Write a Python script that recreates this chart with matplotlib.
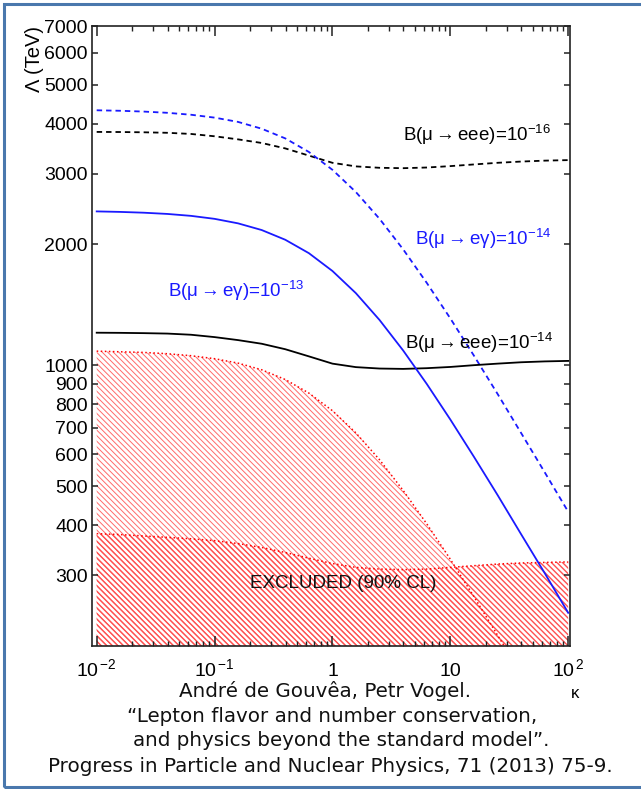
import matplotlib
matplotlib.use("Agg")
import matplotlib.pyplot as plt
import matplotlib.patches as mpatches
from matplotlib.ticker import FixedLocator, NullFormatter, NullLocator

plt.rcParams['font.family'] = ['Liberation Sans', 'DejaVu Sans']
plt.rcParams['mathtext.fontset'] = 'custom'
plt.rcParams['mathtext.rm'] = 'Liberation Sans'
plt.rcParams['mathtext.it'] = 'Liberation Sans:italic'
plt.rcParams['mathtext.bf'] = 'Liberation Sans:bold'

# kappa grid shared by the curves
kappa = [0.01, 0.0158, 0.0251, 0.0398, 0.0631, 0.1, 0.158, 0.251, 0.398, 0.631,
         1.0, 1.58, 2.51, 3.98, 6.31, 10.0, 15.8, 25.1, 39.8, 63.1, 100.0]

# Lambda (TeV) reach for each branching ratio
meg_1e14 = [4318, 4306, 4286, 4256, 4209, 4140, 4040, 3885, 3675, 3400,
            3069, 2702, 2317, 1945, 1605, 1309, 1059, 850, 679, 542, 432]
meg_1e13 = [2418, 2411, 2400, 2383, 2357, 2317, 2258, 2173, 2055, 1903,
            1718, 1513, 1297, 1089, 899, 733, 593, 476, 380, 304, 242]
eee_1e16 = [3814, 3812, 3806, 3795, 3770, 3720, 3655, 3580, 3470, 3330,
            3195, 3130, 3105, 3098, 3110, 3135, 3165, 3195, 3218, 3235, 3245]
eee_1e14 = [1206, 1205, 1203, 1200, 1192, 1176, 1156, 1132, 1097, 1053,
            1010, 990, 982, 980, 984, 991, 1001, 1010, 1018, 1023, 1026]

# excluded regions (90% CL)
kappa_excl_megamma = [0.01, 0.0158, 0.0251, 0.0398, 0.0631, 0.1, 0.158, 0.251, 0.398,
                      0.631, 1.0, 1.58, 2.51, 3.98, 6.31, 10.0, 15.8, 25.1, 31.6]
excl_megamma = [1085, 1081, 1077, 1069, 1057, 1039, 1013, 975, 922,
                853, 771, 679, 582, 488, 403, 329, 266, 213, 191]
excl_eee = [381, 379, 376, 373, 370, 366, 360, 352, 342, 331,
            321, 314, 311, 310, 311, 314, 317, 320, 322, 323, 324]

ytick_vals = [300, 400, 500, 600, 700, 800, 900, 1000, 2000, 3000, 4000, 5000, 6000, 7000]
ytick_labels = ['300', '400', '500', '600', '700', '800', '900', '1000',
                '2000', '3000', '4000', '5000', '6000', '7000']
xtick_vals = [1e-2, 1e-1, 1, 10, 1e2]
xtick_labels = [r'10$^{\,\mathregular{-2}}$', r'10$^{\,\mathregular{-1}}$', '1', '10',
                r'10$^{\,\mathregular{2}}$']

fig = plt.figure(figsize=(6.41, 7.89), dpi=100)
ax = fig.add_axes([0.1435, 0.1812, 0.7457, 0.7858])
ax.set_xscale('log')
ax.set_yscale('log')
ax.set_xlim(10 ** -2.04, 10 ** 2.015)
ax.set_ylim(200, 7000)

ymin = 200
with plt.rc_context({'hatch.linewidth': 0.7}):
    ax.fill_between(kappa_excl_megamma, ymin, excl_megamma, facecolor='none',
                    edgecolor='#ff6a6a', hatch='\\' * 6, linewidth=0, zorder=1)
with plt.rc_context({'hatch.linewidth': 1.0}):
    ax.fill_between(kappa, ymin, excl_eee, facecolor='none',
                    edgecolor='#ff5050', hatch='\\' * 6, linewidth=0, zorder=1)
ax.plot(kappa_excl_megamma, excl_megamma, color='red', ls=':', lw=1.1, zorder=2)
ax.plot(kappa, excl_eee, color='red', ls=':', lw=1.1, zorder=2)

ax.plot(kappa, eee_1e16, color='black', lw=1.3, ls=(0, (3, 2.2)), zorder=3)
ax.plot(kappa, meg_1e14, color='#1a1aff', lw=1.3, ls=(0, (3, 2.2)), zorder=3)
ax.plot(kappa, eee_1e14, color='black', lw=1.3, zorder=3)
ax.plot(kappa, meg_1e13, color='#1a1aff', lw=1.3, zorder=3)

fs = 13.5
arrow = r'$\rightarrow$'
ax.text(0.651, 0.814, 'B(μ' + arrow + r'eee)=10$^{\mathregular{-16}}$',
        transform=ax.transAxes, fontsize=fs, color='black', ha='left', va='baseline')
ax.text(0.676, 0.647, 'B(μ' + arrow + r'eγ)=10$^{\mathregular{-14}}$',
        transform=ax.transAxes, fontsize=fs, color='#1a1aff', ha='left', va='baseline')
ax.text(0.159, 0.563, 'B(μ' + arrow + r'eγ)=10$^{\mathregular{-13}}$',
        transform=ax.transAxes, fontsize=fs, color='#1a1aff', ha='left', va='baseline')
ax.text(0.655, 0.479, 'B(μ' + arrow + r'eee)=10$^{\mathregular{-14}}$',
        transform=ax.transAxes, fontsize=fs, color='black', ha='left', va='baseline')
ax.text(0.331, 0.094, 'EXCLUDED (90% CL)', transform=ax.transAxes,
        fontsize=fs, color='#111111', ha='left', va='baseline')

# axes styling
for sp in ax.spines.values():
    sp.set_linewidth(1.2)
    sp.set_color('#222222')
ax.xaxis.set_major_locator(FixedLocator(xtick_vals))
ax.set_xticklabels(xtick_labels)
minor_x = [m * 10.0 ** e for e in range(-2, 2) for m in range(2, 10)]
ax.xaxis.set_minor_locator(FixedLocator(minor_x))
ax.xaxis.set_minor_formatter(NullFormatter())
ax.yaxis.set_major_locator(FixedLocator(ytick_vals))
ax.set_yticklabels(ytick_labels)
ax.yaxis.set_minor_locator(NullLocator())
ax.tick_params(axis='x', which='major', direction='in', length=7, width=1.1,
               top=True, labelsize=14, pad=21.5, colors='#222222')
ax.tick_params(axis='x', which='minor', direction='in', length=3.5, width=1.0, top=True,
               colors='#222222')
ax.tick_params(axis='y', which='major', direction='in', length=4.5, width=1.1,
               right=True, labelsize=14, pad=3, colors='#222222')
for lab in ax.get_xticklabels():
    lab.set_color('black')
    lab.set_verticalalignment('baseline')
for lab in ax.get_yticklabels():
    lab.set_color('black')

ax.text(-0.121, 1.0, 'Λ (TeV)', transform=ax.transAxes, rotation=90,
        ha='center', va='top', fontsize=14.5)
ax.text(1.010, -0.076, 'κ', transform=ax.transAxes, ha='center', va='center',
        fontsize=12)

cite_font = ['DejaVu Sans']
cite = ['André de Gouvêa, Petr Vogel.',
        '“Lepton flavor and number conservation,',
        'and physics beyond the standard model”.',
        'Progress in Particle and Nuclear Physics, 71 (2013) 75-9.']
cite_y = [0.1245, 0.0925, 0.061, 0.029]
cite_x = [0.507, 0.518, 0.532, 0.515]
for t, x, y in zip(cite, cite_x, cite_y):
    fig.text(x, y, t, ha='center', va='center', fontsize=14.3, family=cite_font,
             color='#111111')

frame = mpatches.Rectangle((3.5 / 641, 2.5 / 789), 1.05, 1 - 6.5 / 789,
                           transform=fig.transFigure, fill=False,
                           edgecolor='#4a78ad', linewidth=2.2, clip_on=False)
fig.patches.append(frame)

fig.savefig('out.png', dpi=100)
